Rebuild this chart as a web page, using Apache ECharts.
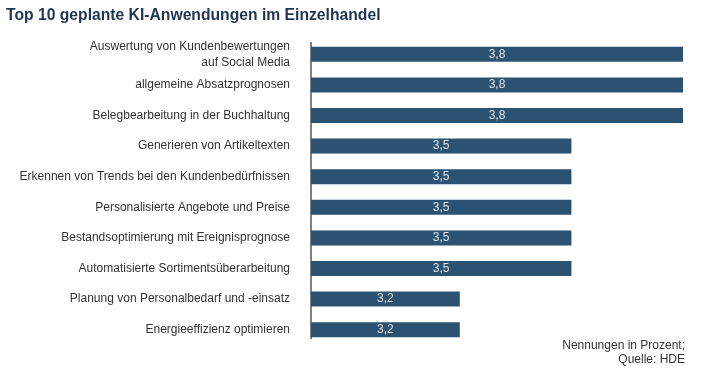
<!DOCTYPE html>
<html><head><meta charset="utf-8">
<script src="https://cdn.jsdelivr.net/npm/echarts@6/dist/echarts.min.js"></script>
<style>html,body{margin:0;padding:0;background:#fff}#c{width:706px;height:378px}</style>
</head><body><div id="c"></div>
<script>
const categories = [
  "Auswertung von Kundenbewertungen\nauf Social Media",
  "allgemeine Absatzprognosen",
  "Belegbearbeitung in der Buchhaltung",
  "Generieren von Artikeltexten",
  "Erkennen von Trends bei den Kundenbedürfnissen",
  "Personalisierte Angebote und Preise",
  "Bestandsoptimierung mit Ereignisprognose",
  "Automatisierte Sortimentsüberarbeitung",
  "Planung von Personalbedarf und -einsatz",
  "Energieeffizienz optimieren"
];
const values = [3.8, 3.8, 3.8, 3.5, 3.5, 3.5, 3.5, 3.5, 3.2, 3.2];
const titleText = "Top 10 geplante KI-Anwendungen im Einzelhandel";
const noteText = "Nennungen in Prozent;\nQuelle: HDE";

const FONT = 'Liberation Sans, Arial, sans-serif';
const chart = echarts.init(document.getElementById('c'), null, {renderer:'canvas'});
chart.setOption({
  animation: false,
  backgroundColor: '#fff',
  title: {
    text: titleText, left: 1, top: 3,
    textStyle: {fontFamily: FONT, fontWeight: 'bold', fontSize: 15.7, color: '#1f3550'}
  },
  graphic: [
    {type: 'line', shape: {x1: 311, y1: 42, x2: 311, y2: 339}, style: {stroke: '#555', lineWidth: 1.5}},
    {type: 'text', right: 21, top: 338, style: {text: noteText, font: '12px ' + FONT, fill: '#333', textAlign: 'right', lineHeight: 14.5}}
  ],
  grid: {left: 311, right: 23, top: 39, bottom: 33, containLabel: false},
  xAxis: {
    type: 'value', min: 2.8, max: 3.8,
    axisLine: {show: false}, axisTick: {show: false}, axisLabel: {show: false}, splitLine: {show: false}
  },
  yAxis: {
    type: 'category', inverse: true, data: categories,
    axisLine: {show: false},
    axisTick: {show: false},
    axisLabel: {margin: 21, fontFamily: FONT, fontSize: 12, color: '#333', lineHeight: 16, align: 'right'}
  },
  series: [{
    type: 'bar', data: values, barWidth: 15,
    itemStyle: {color: '#2c5272'},
    label: {
      show: true, position: 'inside', color: '#dbe4ec',
      fontFamily: FONT, fontSize: 12,
      formatter: p => String(p.value).replace('.', ',')
    }
  }]
});
</script></body></html>
